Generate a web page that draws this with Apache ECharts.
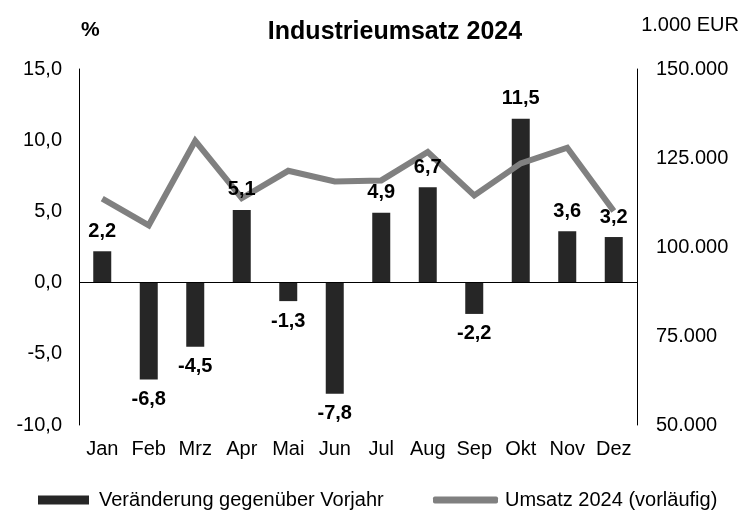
<!DOCTYPE html>
<html>
<head>
<meta charset="utf-8">
<script src="https://cdn.jsdelivr.net/npm/echarts@6/dist/echarts.min.js"></script>
<style>
  html, body { margin: 0; padding: 0; background: #fff; }
  #chart { width: 743px; height: 512px; }
</style>
</head>
<body>
<div id="chart"></div>
<script>
// Monate
var months = ["Jan", "Feb", "Mrz", "Apr", "Mai", "Jun", "Jul", "Aug", "Sep", "Okt", "Nov", "Dez"];
// Veränderung gegenüber Vorjahr in %
var changePct = [2.2, -6.8, -4.5, 5.1, -1.3, -7.8, 4.9, 6.7, -2.2, 11.5, 3.6, 3.2];
// Umsatz 2024 (vorläufig), 1.000 EUR
var revenue = [113600, 106100, 129800, 113700, 121400, 118400, 118700, 126700, 114500, 123500, 127900, 110100];

var FONT = "'Liberation Sans', Arial, sans-serif";

function deNum(v, digits) {
  var s = v.toFixed(digits).replace(".", ",");
  return s.replace(/\B(?=(\d{3})+(?!\d))/g, ".");
}

var myChart = echarts.init(document.getElementById("chart"));

// Beschriftung oben/unten je nach Vorzeichen
var labelData = changePct.map(function (v) {
  return {
    value: v,
    label: { position: v < 0 ? "bottom" : "top" }
  };
});

var option = {
  animation: false,
  backgroundColor: "#fff",
  textStyle: { fontFamily: FONT },
  graphic: [
    {
      type: "text", x: 395, y: 32,
      style: { text: "Industrieumsatz 2024", font: "bold 25px " + FONT, fill: "#000", textAlign: "center", textVerticalAlign: "middle" }
    },
    {
      type: "text", x: 81, y: 30,
      style: { text: "%", font: "bold 21px " + FONT, fill: "#000", textVerticalAlign: "middle" }
    },
    {
      type: "text", x: 739, y: 25,
      style: { text: "1.000 EUR", font: "20px " + FONT, fill: "#000", textAlign: "right", textVerticalAlign: "middle" }
    }
  ],
  legend: [
    {
      left: 33, top: 485,
      itemWidth: 51, itemHeight: 9,
      icon: "rect",
      textStyle: { fontSize: 20, color: "#000", fontFamily: FONT, padding: [0, 0, 0, 5] },
      data: ["Veränderung gegenüber Vorjahr"]
    },
    {
      left: 428, top: 485,
      itemWidth: 65, itemHeight: 7,
      icon: "roundRect",
      textStyle: { fontSize: 20, color: "#000", fontFamily: FONT, padding: [0, 0, 0, 2] },
      data: ["Umsatz 2024 (vorläufig)"]
    }
  ],
  grid: { left: 79, right: 106, top: 69, bottom: 87 },
  xAxis: {
    type: "category",
    data: months,
    axisLine: { show: false, onZero: false },
    axisTick: { show: false },
    axisLabel: { fontSize: 20, color: "#000", margin: 14, fontFamily: FONT }
  },
  yAxis: [
    {
      type: "value",
      min: -10, max: 15, interval: 5,
      axisLine: { show: true, lineStyle: { color: "#000", width: 1 } },
      axisTick: { show: false },
      splitLine: { show: false },
      axisLabel: {
        fontSize: 20, color: "#000", margin: 17, fontFamily: FONT,
        formatter: function (v) { return deNum(v, 1); }
      }
    },
    {
      type: "value",
      min: 50000, max: 150000, interval: 25000,
      axisLine: { show: true, lineStyle: { color: "#000", width: 1 } },
      axisTick: { show: false },
      splitLine: { show: false },
      axisLabel: {
        fontSize: 20, color: "#000", margin: 19, fontFamily: FONT,
        formatter: function (v) { return deNum(v, 0); }
      }
    }
  ],
  series: [
    {
      name: "Veränderung gegenüber Vorjahr",
      type: "bar",
      yAxisIndex: 0,
      barWidth: 18,
      barGap: "-100%",
      data: changePct,
      z: 2,
      itemStyle: { color: "#262626" },
      markLine: {
        silent: true,
        symbol: "none",
        label: { show: false },
        lineStyle: { color: "#000", width: 1, type: "solid" },
        data: [{ yAxis: 0 }]
      }
    },
    {
      // nur Beschriftung, liegt über der Linie
      name: "labels",
      type: "bar",
      yAxisIndex: 0,
      barWidth: 18,
      data: labelData,
      z: 10,
      silent: true,
      itemStyle: { color: "rgba(0,0,0,0)" },
      label: {
        show: true,
        distance: 10,
        fontSize: 20,
        fontWeight: "bold",
        color: "#000",
        fontFamily: FONT,
        formatter: function (p) { return deNum(p.value, 1); }
      }
    },
    {
      name: "Umsatz 2024 (vorläufig)",
      type: "line",
      yAxisIndex: 1,
      data: revenue,
      symbol: "none",
      z: 5,
      itemStyle: { color: "#808080" },
      lineStyle: { color: "#808080", width: 6, join: "miter" }
    }
  ]
};

myChart.setOption(option);
window.addEventListener("resize", function () { myChart.resize(); });
</script>
</body>
</html>
